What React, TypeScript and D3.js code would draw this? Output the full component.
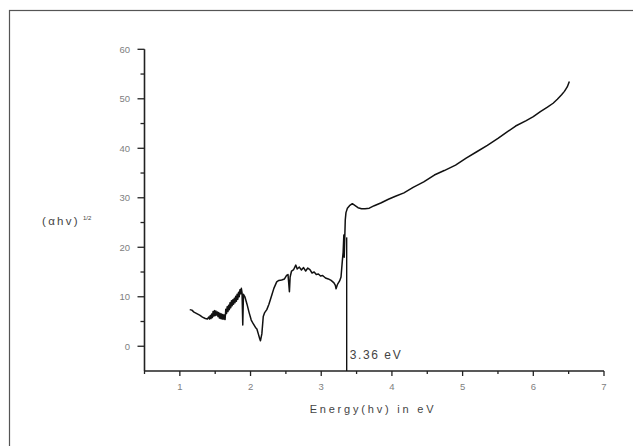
import { useRef, useEffect } from 'react';
import * as d3 from 'd3';

// Tauc plot: (αhv)^1/2 vs photon energy
const energy = [
  1.14, 1.17, 1.2, 1.24, 1.28, 1.32, 1.36, 1.39, 1.41, 1.42, 1.43, 1.44, 1.45, 1.46, 1.47, 1.48,
  1.49, 1.5, 1.51, 1.52, 1.53, 1.54, 1.55, 1.56, 1.57, 1.58, 1.59, 1.6, 1.61, 1.62, 1.63, 1.64,
  1.65, 1.66, 1.67, 1.68, 1.69, 1.7, 1.71, 1.72, 1.73, 1.74, 1.75, 1.76, 1.77, 1.78, 1.79, 1.8,
  1.81, 1.82, 1.83, 1.84, 1.85, 1.86, 1.87, 1.88, 1.89, 1.9, 1.92, 1.95, 1.98, 2.01, 2.04,
  2.07, 2.09, 2.11, 2.13, 2.14, 2.16, 2.18, 2.2, 2.23, 2.26, 2.3, 2.33, 2.37, 2.4, 2.44, 2.48,
  2.51, 2.53, 2.55, 2.56, 2.58, 2.61, 2.64, 2.66, 2.69, 2.72, 2.75, 2.78, 2.81, 2.84, 2.87, 2.9,
  2.93, 2.96, 2.99, 3.02, 3.06, 3.1, 3.14, 3.18, 3.2, 3.21, 3.23, 3.26, 3.28, 3.3, 3.31, 3.32,
  3.325, 3.335, 3.34, 3.35, 3.37, 3.4, 3.44, 3.48, 3.52, 3.57, 3.62, 3.68, 3.75, 3.85, 3.95, 4.05,
  4.17, 4.3, 4.45, 4.6, 4.74, 4.9, 5.05, 5.2, 5.35, 5.5, 5.62, 5.75, 5.9, 6.0, 6.1, 6.2,
  6.28, 6.34, 6.4, 6.44, 6.48, 6.51,
];
const tauc = [
  7.4, 7.3, 6.9, 6.6, 6.3, 5.9, 5.6, 5.5, 5.9, 5.5, 6.2, 5.6, 6.5, 5.8, 7.0, 6.1,
  7.2, 6.2, 7.1, 6.3, 6.9, 6.0, 6.8, 5.7, 6.6, 5.6, 6.5, 5.5, 6.4, 5.5, 6.3, 5.4,
  7.5, 6.6, 8.0, 7.0, 8.3, 7.4, 8.8, 7.8, 9.2, 8.2, 9.4, 8.5, 9.7, 8.8, 10.1, 9.1,
  10.5, 9.5, 10.9, 10.0, 11.4, 10.6, 11.7, 10.8, 4.3, 10.5, 10.0, 8.5, 6.8, 5.3, 4.5,
  3.8, 3.5, 2.5, 1.5, 1.1, 2.5, 6.0, 6.8, 7.4, 8.5, 10.3, 11.7, 13.0, 13.3, 13.4, 13.6,
  14.3, 14.5, 11.0, 14.0, 15.2, 15.5, 16.4, 15.6, 16.0, 15.4, 15.9, 15.2, 15.8, 15.5, 14.8, 15.0,
  14.5, 14.6, 14.2, 14.3, 13.8, 13.6, 13.3, 12.8, 12.3, 11.6, 12.5, 13.2, 14.0, 17.5, 19.0, 22.5,
  18.0, 23.0, 25.5, 27.0, 27.9, 28.4, 28.8, 28.4, 28.0, 27.8, 27.8, 27.9, 28.4, 29.0, 29.7, 30.3,
  31.0, 32.1, 33.2, 34.6, 35.5, 36.6, 38.0, 39.3, 40.6, 42.0, 43.2, 44.5, 45.6, 46.4, 47.4, 48.3,
  49.1, 49.9, 50.8, 51.5, 52.4, 53.5,
];

const xMajor = [1, 2, 3, 4, 5, 6, 7];
const xMinor = [0.5, 1.5, 2.5, 3.5, 4.5, 5.5, 6.5];
const yMajor = [0, 10, 20, 30, 40, 50, 60];
const yMinor = [5, 15, 25, 35, 45, 55];

const bandGap = 3.36;
const bandGapTop = 22;

const W = 633;
const H = 446;

export default function App() {
  const svgRef = useRef<SVGSVGElement>(null);

  useEffect(() => {
    const svg = d3.select(svgRef.current);
    svg.selectAll('*').remove();

    const x = d3.scaleLinear().domain([0.5, 7]).range([144.5, 604]);
    const y = d3.scaleLinear().domain([-5, 60]).range([371, 49.3]);
    const font = "'Liberation Sans', Arial, sans-serif";
    const tickColor = '#808080';

    // outer frame
    svg.append('rect')
      .attr('x', 9.5)
      .attr('y', 10.5)
      .attr('width', W)
      .attr('height', H)
      .attr('fill', 'none')
      .attr('stroke', '#555')
      .attr('stroke-width', 1.2);

    // axes lines
    svg.append('line')
      .attr('x1', x(0.5)).attr('x2', x(7))
      .attr('y1', y(-5)).attr('y2', y(-5))
      .attr('stroke', '#222').attr('stroke-width', 1.6);
    svg.append('line')
      .attr('x1', x(0.5)).attr('x2', x(0.5))
      .attr('y1', y(-5)).attr('y2', y(60))
      .attr('stroke', '#222').attr('stroke-width', 1.6);

    // x ticks
    for (const t of xMajor) {
      svg.append('line')
        .attr('x1', x(t)).attr('x2', x(t))
        .attr('y1', y(-5)).attr('y2', y(-5) + 5)
        .attr('stroke', '#222').attr('stroke-width', 1.3);
      svg.append('text')
        .attr('x', x(t)).attr('y', 390)
        .attr('text-anchor', 'middle')
        .attr('font-family', font).attr('font-size', '9.5px')
        .attr('fill', tickColor)
        .text(t);
    }
    for (const t of xMinor) {
      svg.append('line')
        .attr('x1', x(t)).attr('x2', x(t))
        .attr('y1', y(-5)).attr('y2', y(-5) + 3)
        .attr('stroke', '#222').attr('stroke-width', 1.3);
    }

    // y ticks
    for (const t of yMajor) {
      svg.append('line')
        .attr('x1', x(0.5) - 7).attr('x2', x(0.5))
        .attr('y1', y(t)).attr('y2', y(t))
        .attr('stroke', '#222').attr('stroke-width', 1.3);
      svg.append('text')
        .attr('x', 130).attr('y', y(t) + 3.5)
        .attr('text-anchor', 'end')
        .attr('font-family', font).attr('font-size', '9.5px')
        .attr('fill', tickColor)
        .text(t);
    }
    for (const t of yMinor) {
      svg.append('line')
        .attr('x1', x(0.5) - 4).attr('x2', x(0.5))
        .attr('y1', y(t)).attr('y2', y(t))
        .attr('stroke', '#222').attr('stroke-width', 1.3);
    }

    // curve
    const pts: [number, number][] = energy.map((e, i) => [e, tauc[i]]);
    const line = d3.line<[number, number]>()
      .x((d) => x(d[0]))
      .y((d) => y(d[1]));
    svg.append('path')
      .datum(pts)
      .attr('d', line)
      .attr('fill', 'none')
      .attr('stroke', '#111')
      .attr('stroke-width', 1.5)
      .attr('stroke-linejoin', 'round');

    // band gap marker
    svg.append('line')
      .attr('x1', x(bandGap)).attr('x2', x(bandGap))
      .attr('y1', y(-5)).attr('y2', y(bandGapTop))
      .attr('stroke', '#111').attr('stroke-width', 1.4);
    svg.append('text')
      .attr('x', x(bandGap) + 3).attr('y', 359)
      .attr('font-family', font).attr('font-size', '12px')
      .attr('letter-spacing', '1.6px')
      .attr('fill', '#444')
      .text(`${bandGap} eV`);

    // axis titles
    svg.append('text')
      .attr('x', 373).attr('y', 413)
      .attr('text-anchor', 'middle')
      .attr('font-family', font).attr('font-size', '11px')
      .attr('letter-spacing', '2.8px')
      .attr('fill', '#444')
      .text('Energy(hv) in eV');

    const yt = svg.append('text')
      .attr('x', 42).attr('y', 225)
      .attr('font-family', font).attr('font-size', '11.5px')
      .attr('letter-spacing', '2.3px')
      .attr('fill', '#444');
    yt.append('tspan').text('(αhv)');
    yt.append('tspan')
      .attr('dx', 3).attr('dy', -5)
      .attr('font-size', '6px')
      .attr('letter-spacing', '0px')
      .text('1/2');
  }, []);

  return (
    <svg
      ref={svgRef}
      width={W}
      height={H}
      viewBox={`0 0 ${W} ${H}`}
      style={{ position: 'absolute', left: 0, top: 0, background: '#fff' }}
    />
  );
}
